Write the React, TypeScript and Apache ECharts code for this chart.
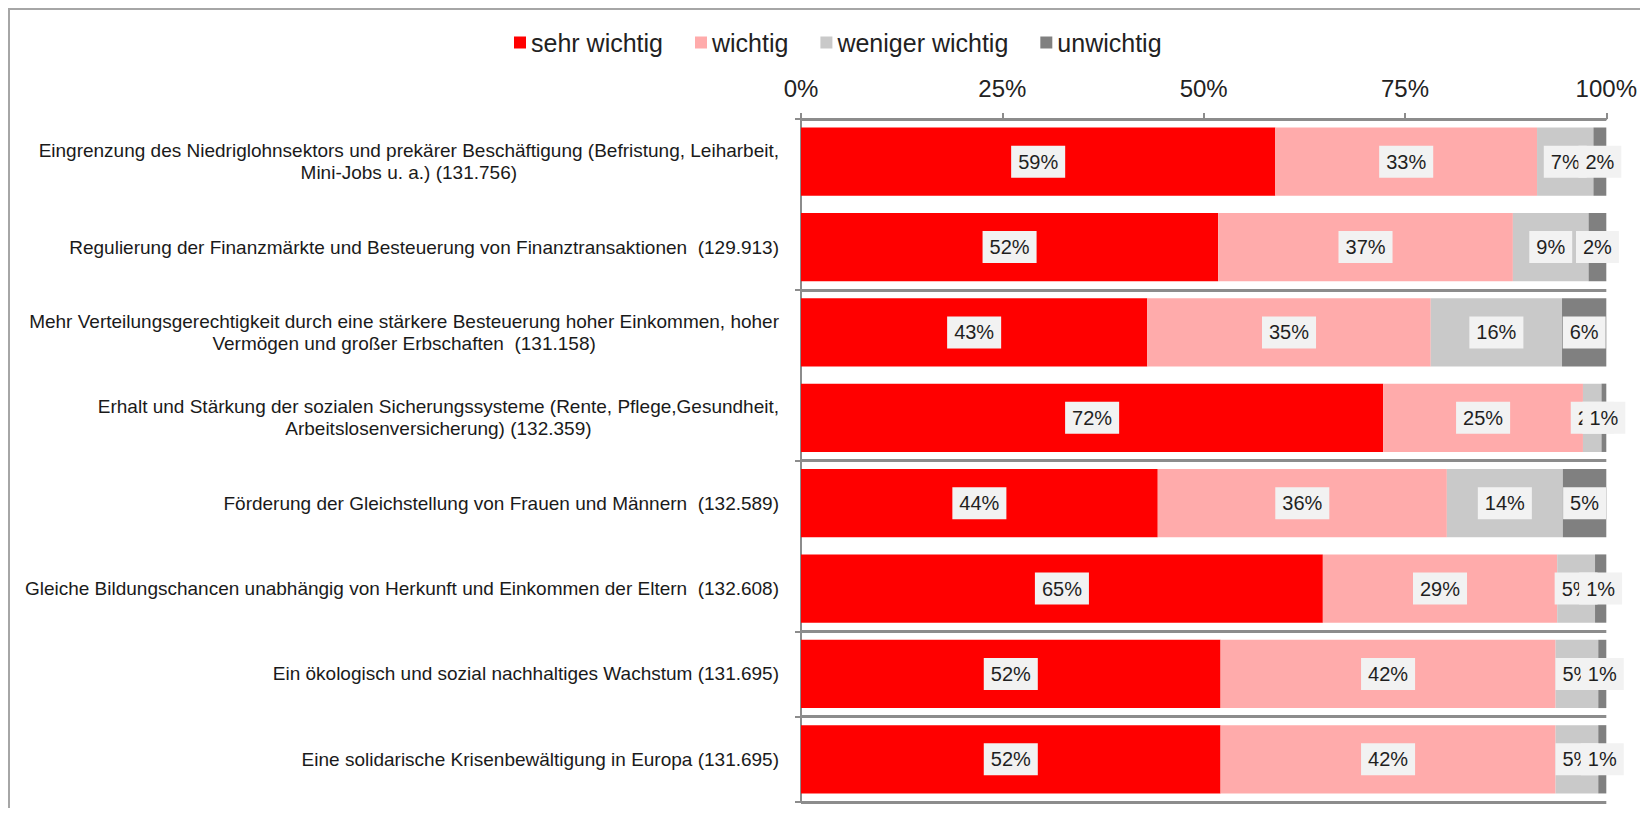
import React, { useEffect, useRef } from "react";
import * as echarts from "echarts";

const categories = [
  "Eingrenzung des Niedriglohnsektors und prekärer Beschäftigung (Befristung, Leiharbeit,\nMini-Jobs u. a.) (131.756)",
  "Regulierung der Finanzmärkte und Besteuerung von Finanztransaktionen  (129.913)",
  "Mehr Verteilungsgerechtigkeit durch eine stärkere Besteuerung hoher Einkommen, hoher\nVermögen und großer Erbschaften  (131.158)",
  "Erhalt und Stärkung der sozialen Sicherungssysteme (Rente, Pflege,Gesundheit,\nArbeitslosenversicherung) (132.359)",
  "Förderung der Gleichstellung von Frauen und Männern  (132.589)",
  "Gleiche Bildungschancen unabhängig von Herkunft und Einkommen der Eltern  (132.608)",
  "Ein ökologisch und sozial nachhaltiges Wachstum (131.695)",
  "Eine solidarische Krisenbewältigung in Europa (131.695)",
];

const seriesNames = ["sehr wichtig", "wichtig", "weniger wichtig", "unwichtig"];
const sehrWichtig = [58.9, 51.8, 43.0, 72.3, 44.3, 64.8, 52.1, 52.1];
const wichtig = [32.5, 36.6, 35.2, 24.8, 35.9, 29.1, 41.6, 41.6];
const wenigerWichtig = [7.0, 9.4, 16.3, 2.3, 14.4, 4.7, 5.3, 5.3];
const unwichtig = [1.6, 2.2, 5.5, 0.6, 5.4, 1.4, 1.0, 1.0];
const seriesColors = ["#ff0000", "#ffabab", "#c9c9c9", "#808080"];

const FONT = "'Liberation Sans', Arial, sans-serif";

export default function App() {
  const ref = useRef<HTMLDivElement>(null);
  useEffect(() => {
    if (!ref.current) return;
    const chart = echarts.init(ref.current, undefined, { renderer: "svg" });
    const values = [sehrWichtig, wichtig, wenigerWichtig, unwichtig];
    chart.setOption({
      animation: false,
      textStyle: { fontFamily: FONT },
      legend: {
        left: 499,
        top: 15,
        icon: "rect",
        itemWidth: 12,
        itemHeight: 12,
        itemGap: 32,
        textStyle: { fontSize: 25, color: "#222", fontFamily: FONT },
        data: seriesNames,
      },
      grid: { left: 791, right: 33, top: 109, bottom: 6 },
      xAxis: {
        type: "value",
        position: "top",
        min: 0,
        max: 100,
        interval: 25,
        axisLabel: {
          formatter: "{value}%",
          fontSize: 24,
          color: "#222",
          margin: 19,
          fontFamily: FONT,
        },
        axisLine: { show: true, lineStyle: { color: "#8c8c8c", width: 2 } },
        axisTick: { show: true, length: 6, lineStyle: { color: "#8c8c8c", width: 2 } },
        splitLine: { show: false },
      },
      yAxis: {
        type: "category",
        inverse: true,
        data: categories,
        axisLine: { show: true, lineStyle: { color: "#8c8c8c", width: 2 } },
        axisTick: { show: true, interval: 1, length: 6, lineStyle: { color: "#8c8c8c", width: 2 } },
        splitLine: { show: true, interval: 1, lineStyle: { color: "#8c8c8c", width: 3 } },
        axisLabel: {
          interval: 0,
          margin: 22,
          align: "right",
          formatter: (v: string) =>
            v
              .split("\n")
              .map((l) => `{c|${l}}`)
              .join("\n"),
          rich: {
            c: {
              align: "center",
              fontSize: 19,
              lineHeight: 22,
              color: "#1a1a1a",
              fontFamily: FONT,
            },
          },
        },
      },
      series: seriesNames.map((name, i) => ({
        name,
        type: "bar",
        stack: "total",
        barCategoryGap: "20%",
        data: values[i],
        itemStyle: { color: seriesColors[i] },
        label: {
          show: true,
          position: "inside",
          formatter: (p: any) => `${Math.round(p.value)}%`,
          fontSize: 20,
          lineHeight: 20,
          color: "#1f1f1f",
          backgroundColor: "#f2f2f2",
          padding: [6, 7],
          fontFamily: FONT,
        },
      })),
    });
    return () => chart.dispose();
  }, []);
  return (
    <div
      style={{
        width: 1632,
        height: 800,
        boxSizing: "border-box",
        borderTop: "2px solid #a6a6a6",
        borderLeft: "2px solid #a6a6a6",
      }}
    >
      <div ref={ref} style={{ width: 1630, height: 798 }} />
    </div>
  );
}
